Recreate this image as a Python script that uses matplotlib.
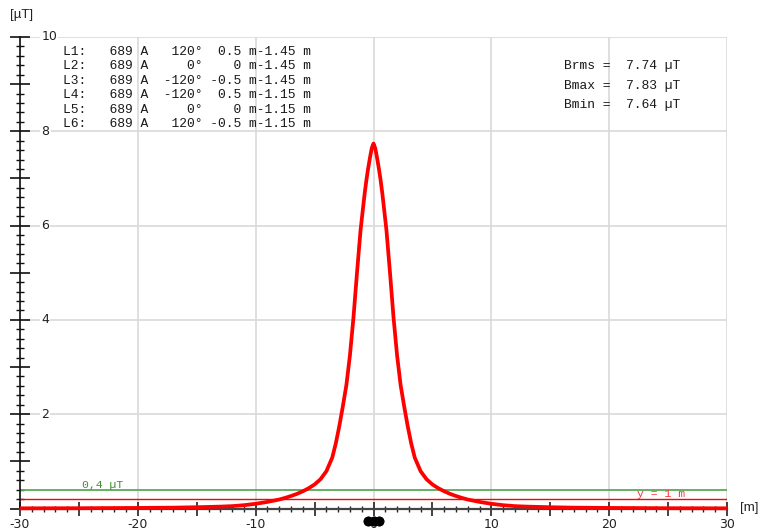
import matplotlib
matplotlib.use('Agg')
import matplotlib.pyplot as plt
import matplotlib.transforms as mtransforms
from matplotlib.ticker import MultipleLocator, FuncFormatter

# ---------------- data ----------------
line_names = ["L1", "L2", "L3", "L4", "L5", "L6"]
currents = [689, 689, 689, 689, 689, 689]
phases = [120, 0, -120, -120, 0, 120]
cond_x = [0.5, 0, -0.5, 0.5, 0, -0.5]
cond_y = [-1.45, -1.45, -1.45, -1.15, -1.15, -1.15]

stat_names = ["Brms", "Bmax", "Bmin"]
stat_values = [7.74, 7.83, 7.64]

x_m = [-30, -25, -20, -17, -15, -13, -12, -11, -10, -9, -8, -7.5, -7, -6.5, -6,
       -5.5, -5, -4.5, -4, -3.5, -3.2, -2.9, -2.6, -2.3, -2.0, -1.7, -1.4, -1.1,
       -0.9, -0.75, -0.6, -0.45, -0.3, -0.15, 0,
       0.15, 0.3, 0.45, 0.6, 0.75, 0.9, 1.1, 1.4, 1.7, 2.0, 2.3, 2.6, 2.9, 3.2,
       3.5, 4, 4.5, 5, 5.5, 6, 6.5, 7, 7.5, 8, 9, 10, 11, 12, 13, 15, 17, 20, 25, 30]
b_uT = [0.004, 0.006, 0.012, 0.018, 0.027, 0.04, 0.05, 0.07, 0.10, 0.14, 0.19, 0.225,
        0.265, 0.31, 0.365, 0.43, 0.51, 0.62, 0.79, 1.08, 1.38, 1.75, 2.17, 2.62,
        3.25, 4.05, 5.0, 5.9, 6.35, 6.68, 6.97, 7.22, 7.44, 7.64, 7.74,
        7.64, 7.44, 7.22, 6.97, 6.68, 6.35, 5.9, 5.0, 4.05, 3.25, 2.62, 2.17, 1.75,
        1.38, 1.08, 0.79, 0.62, 0.51, 0.43, 0.365, 0.31, 0.265, 0.225, 0.19, 0.14,
        0.10, 0.07, 0.05, 0.04, 0.027, 0.018, 0.012, 0.006, 0.004]

limit_green = 0.4
limit_red = 0.2
green_label = "0,4 µT"
height_label = "y = 1 m"

x_labels = [-30, -20, -10, 0, 10, 20, 30]
y_labels = [2, 4, 6, 8, 10]

# ---------------- figure ----------------
W, H = 761, 530
fig = plt.figure(figsize=(W / 100, H / 100), dpi=100)
ax = fig.add_axes([20 / W, 1 - 508.5 / H, 707 / W, 471.5 / H])
ax.set_xlim(-30, 30)
ax.set_ylim(0, 10)

for s in ("top", "right"):
    ax.spines[s].set_visible(False)
ax.spines["left"].set_color("#111111")
ax.spines["left"].set_linewidth(1.2)
ax.spines["bottom"].set_color("#444444")
ax.spines["bottom"].set_linewidth(1.6)

grid_c = "#d9d9d9"
for v in x_labels:
    ax.axvline(v, color=grid_c, lw=1.2, zorder=0)
for v in y_labels:
    ax.axhline(v, color=grid_c, lw=1.2, zorder=0)

# ticks
ax.xaxis.set_major_locator(MultipleLocator(5))
ax.xaxis.set_minor_locator(MultipleLocator(1))
ax.xaxis.set_major_formatter(FuncFormatter(lambda v, p: f"{int(round(v))}" if int(round(v)) in x_labels else ""))
ax.tick_params(axis="x", which="major", direction="inout", length=10, width=1.2,
               color="#222222", pad=1.5, labelsize=9, labelcolor="#222222")
ax.tick_params(axis="x", which="minor", direction="inout", length=5, width=1.0, color="#222222")

ax.yaxis.set_major_locator(MultipleLocator(1))
ax.yaxis.set_minor_locator(MultipleLocator(0.2))
ax.tick_params(axis="y", which="major", direction="inout", length=14, width=1.2,
               color="#111111", labelleft=False)
ax.tick_params(axis="y", which="minor", direction="inout", length=6, width=1.0, color="#111111")

ytrans = mtransforms.blended_transform_factory(ax.transAxes, ax.transData)
for v in y_labels:
    ax.text(0.03, v, f"{v}", transform=ytrans, ha="left", va="center", fontsize=9,
            color="#222222", zorder=3,
            bbox=dict(facecolor="white", edgecolor="none", pad=1.0))

# axis unit labels
fig.text(10 / W, 1 - 15 / H, "[µT]", ha="left", va="center", fontsize=9.5,
         family="Liberation Sans", color="#222222")
fig.text(740 / W, 1 - 508 / H, "[m]", ha="left", va="center", fontsize=9.5,
         family="Liberation Sans", color="#222222")

# limit lines
ax.axhline(limit_green, color="#5aa95a", lw=1.3, zorder=2)
ax.axhline(limit_red, color="#ff0000", lw=1.0, zorder=2)
ax.text(0.087, limit_green, green_label, transform=ytrans, ha="left", va="bottom",
        fontsize=8.2, family="Liberation Mono", color="#3f8f2f")
ax.text(0.872, limit_red, height_label, transform=ytrans, ha="left", va="bottom",
        fontsize=8.2, family="Liberation Mono", color="#ff3030")

# curve
ax.plot(x_m, b_uT, color="#ff0000", lw=2.7, zorder=6, clip_on=False,
        solid_joinstyle="round", solid_capstyle="butt")

# conductor markers below the axis
mtrans = mtransforms.blended_transform_factory(ax.transData, ax.transAxes)
ax.plot(cond_x, [-0.0255] * len(cond_x), "o", color="black", ms=6, transform=mtrans,
        clip_on=False, zorder=10)

# conductor table
for i, (n, I, ph, cx, cy) in enumerate(zip(line_names, currents, phases, cond_x, cond_y)):
    s = f"{n}:{I:>6} A{ph:>6}°{cx:>5g} m{cy:.2f} m"
    fig.text(63 / W, 1 - (52 + 14.4 * i) / H, s, ha="left", va="center",
             fontsize=9.4, family="Liberation Mono", color="#1a1a1a")

for i, (n, v) in enumerate(zip(stat_names, stat_values)):
    s = f"{n} ={v:>6.2f} µT"
    fig.text(564 / W, 1 - (66 + 19.5 * i) / H, s, ha="left", va="center",
             fontsize=9.4, family="Liberation Mono", color="#1a1a1a")

fig.savefig("out.png", dpi=100, facecolor="white")
